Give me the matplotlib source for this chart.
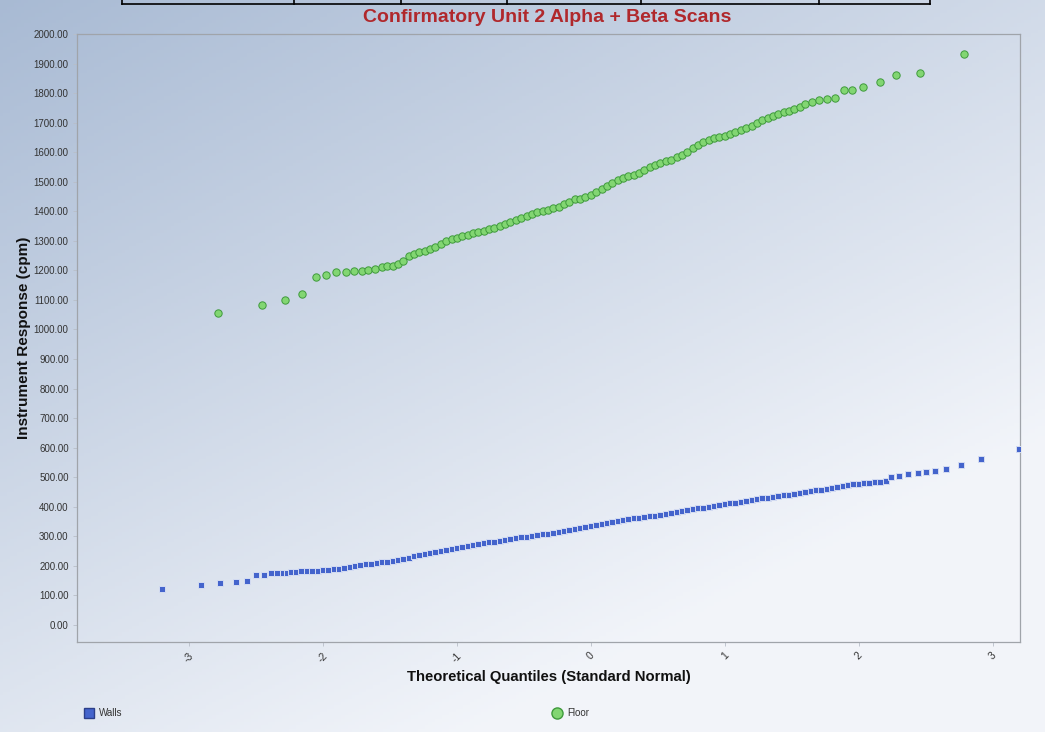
import numpy as np
import matplotlib
matplotlib.use("Agg")
import matplotlib.pyplot as plt
from matplotlib.lines import Line2D

# Q-Q points: theoretical quantile, instrument response (cpm)
floor_q = [-2.786, -2.457, -2.281, -2.154, -2.05, -1.98, -1.90, -1.83, -1.77, -1.71,
           -1.66, -1.61, -1.56, -1.52, -1.48, -1.44, -1.40, -1.36, -1.32, -1.28,
           -1.24, -1.20, -1.16, -1.12, -1.08, -1.04, -1.00, -0.96, -0.92, -0.88,
           -0.84, -0.80, -0.76, -0.72, -0.68, -0.64, -0.60, -0.56, -0.52, -0.48,
           -0.44, -0.40, -0.36, -0.32, -0.28, -0.24, -0.20, -0.16, -0.12, -0.08,
           -0.04, 0.00, 0.04, 0.08, 0.12, 0.16, 0.20, 0.24, 0.28, 0.32,
           0.36, 0.40, 0.44, 0.48, 0.52, 0.56, 0.60, 0.64, 0.68, 0.72,
           0.76, 0.80, 0.84, 0.88, 0.92, 0.96, 1.00, 1.04, 1.08, 1.12,
           1.16, 1.20, 1.24, 1.28, 1.32, 1.36, 1.40, 1.44, 1.48, 1.52,
           1.56, 1.60, 1.65, 1.70, 1.76, 1.82, 1.89, 1.95, 2.03, 2.16,
           2.278, 2.454, 2.783]
floor_cpm = [1056, 1082, 1100, 1119, 1177, 1184, 1195, 1196, 1197, 1199,
             1200, 1203, 1212, 1214, 1216, 1220, 1232, 1248, 1256, 1262,
             1267, 1272, 1280, 1290, 1298, 1305, 1310, 1316, 1320, 1325,
             1330, 1334, 1340, 1345, 1350, 1356, 1362, 1370, 1378, 1385,
             1390, 1396, 1400, 1404, 1410, 1416, 1425, 1432, 1440, 1442,
             1447, 1455, 1465, 1475, 1485, 1495, 1505, 1512, 1518, 1524,
             1530, 1540, 1550, 1558, 1565, 1570, 1575, 1582, 1592, 1602,
             1615, 1625, 1635, 1642, 1648, 1652, 1656, 1662, 1668, 1675,
             1682, 1690, 1700, 1708, 1715, 1722, 1730, 1735, 1740, 1745,
             1752, 1762, 1770, 1775, 1780, 1783, 1810, 1812, 1822, 1837,
             1862, 1869, 1932]

walls_q = [-3.199, -2.91, -2.766, -2.651, -2.569, -2.50, -2.442, -2.39, -2.345, -2.296,
           -2.268, -2.24, -2.20, -2.16, -2.12, -2.08, -2.04, -2.00, -1.96, -1.92,
           -1.88, -1.84, -1.80, -1.76, -1.72, -1.68, -1.64, -1.60, -1.56, -1.52,
           -1.48, -1.44, -1.40, -1.36, -1.32, -1.28, -1.24, -1.20, -1.16, -1.12,
           -1.08, -1.04, -1.00, -0.96, -0.92, -0.88, -0.84, -0.80, -0.76, -0.72,
           -0.68, -0.64, -0.60, -0.56, -0.52, -0.48, -0.44, -0.40, -0.36, -0.32,
           -0.28, -0.24, -0.20, -0.16, -0.12, -0.08, -0.04, 0.00, 0.04, 0.08,
           0.12, 0.16, 0.20, 0.24, 0.28, 0.32, 0.36, 0.40, 0.44, 0.48,
           0.52, 0.56, 0.60, 0.64, 0.68, 0.72, 0.76, 0.80, 0.84, 0.88,
           0.92, 0.96, 1.00, 1.04, 1.08, 1.12, 1.16, 1.20, 1.24, 1.28,
           1.32, 1.36, 1.40, 1.44, 1.48, 1.52, 1.56, 1.60, 1.64, 1.68,
           1.72, 1.76, 1.80, 1.84, 1.88, 1.92, 1.96, 2.00, 2.04, 2.08,
           2.12, 2.16, 2.20, 2.24, 2.30, 2.37, 2.44, 2.50, 2.57, 2.655,
           2.76, 2.915, 3.2]
walls_cpm = [121, 134, 141, 145, 148, 170, 170, 174, 174, 176,
             176, 178, 180, 181, 182, 183, 184, 185, 186, 188,
             190, 193, 196, 199, 202, 205, 207, 210, 212, 214,
             216, 219, 223, 228, 232, 236, 240, 243, 246, 250,
             253, 257, 260, 263, 266, 270, 273, 276, 279, 282,
             285, 288, 290, 293, 296, 298, 301, 304, 306, 309,
             312, 315, 318, 321, 324, 327, 330, 333, 337, 341,
             345, 348, 352, 355, 358, 361, 363, 366, 368, 370,
             373, 376, 379, 382, 385, 388, 391, 394, 397, 400,
             403, 405, 408, 411, 414, 417, 420, 423, 426, 428,
             430, 433, 435, 438, 440, 443, 446, 449, 452, 455,
             458, 461, 464, 467, 470, 473, 476, 478, 480, 481,
             482, 484, 487, 500, 503, 510, 515, 518, 521, 528,
             541, 562, 596]

x_ticks = [-3, -2, -1, 0, 1, 2, 3]
y_ticks = list(range(0, 2001, 100))

plt.rcParams['font.family'] = ['Liberation Sans', 'DejaVu Sans']

fig = plt.figure(figsize=(10.45, 7.32), dpi=100)

# gradient background over the whole figure
bg = fig.add_axes([0, 0, 1, 1], zorder=-10)
gx, gy = np.meshgrid(np.linspace(0, 1, 300), np.linspace(0, 1, 220))
t = np.clip(0.55 * gx + 0.75 * gy, 0, 1)
c0 = np.array([0.66, 0.73, 0.83])
c1 = np.array([0.95, 0.96, 0.98])
img = c0[None, None, :] * (1 - t[..., None]) + c1[None, None, :] * t[..., None]
bg.imshow(img, aspect='auto', extent=[0, 1, 0, 1], origin='upper')
bg.axis('off')

# cropped table border at the very top
fig.add_artist(Line2D([122 / 1045, 930 / 1045], [1 - 4 / 732] * 2, color='black', lw=1.2))
for xp in [122, 294, 401, 507, 641, 819, 930]:
    fig.add_artist(Line2D([xp / 1045] * 2, [1 - 4 / 732, 1], color='black', lw=1.2))

ax = fig.add_axes([77 / 1045, 1 - 642 / 732, (1020 - 77) / 1045, (642 - 34) / 732])
ax.patch.set_alpha(0)

ax.scatter(walls_q, walls_cpm, marker='s', s=25, facecolor='#4464cc',
           edgecolor='#d4dcf2', linewidth=0.7, zorder=3)
ax.scatter(floor_q, floor_cpm, marker='o', s=28, facecolor='#82d672',
           edgecolor='#3f9a3c', linewidth=0.7, zorder=3)

ax.set_xlim(-3.836, 3.204)
ax.set_ylim(-58, 2000)
ax.set_xticks(x_ticks)
ax.set_xticklabels([str(v) for v in x_ticks], rotation=45, fontsize=7.5, color='#333333')
ax.set_yticks(y_ticks)
ax.set_yticklabels(['%.2f' % v for v in y_ticks], fontsize=7, color='#333333')
ax.tick_params(axis='both', length=3, width=0.6, color='#b8bec8', pad=3)
for sp in ax.spines.values():
    sp.set_color('#a0a4aa')
    sp.set_linewidth(0.9)

ax.set_xlabel('Theoretical Quantiles (Standard Normal)', fontsize=10.7,
              fontweight='bold', color='#111111', labelpad=4)
ax.set_ylabel('Instrument Response (cpm)', fontsize=11, fontweight='bold',
              color='#111111', labelpad=2)
fig.text(0.524, 1 - 17 / 732, 'Confirmatory Unit 2 Alpha + Beta Scans', ha='center',
         va='center', fontsize=14, fontweight='bold', color='#b0282c')

h_walls = Line2D([], [], marker='s', ls='none', markersize=7.5, markerfacecolor='#4464cc',
                 markeredgecolor='#2c3f8a', label='Walls')
h_floor = Line2D([], [], marker='o', ls='none', markersize=8, markerfacecolor='#82d672',
                 markeredgecolor='#3f9a3c', label='Floor')
fig.legend(handles=[h_walls], loc='center left', bbox_to_anchor=(71 / 1045, 1 - 713 / 732),
           frameon=False, fontsize=7, handletextpad=0.0, labelcolor='#333333')
fig.legend(handles=[h_floor], loc='center left', bbox_to_anchor=(539 / 1045, 1 - 713 / 732),
           frameon=False, fontsize=7, handletextpad=0.0, labelcolor='#333333')

fig.savefig('out.png', dpi=100)
